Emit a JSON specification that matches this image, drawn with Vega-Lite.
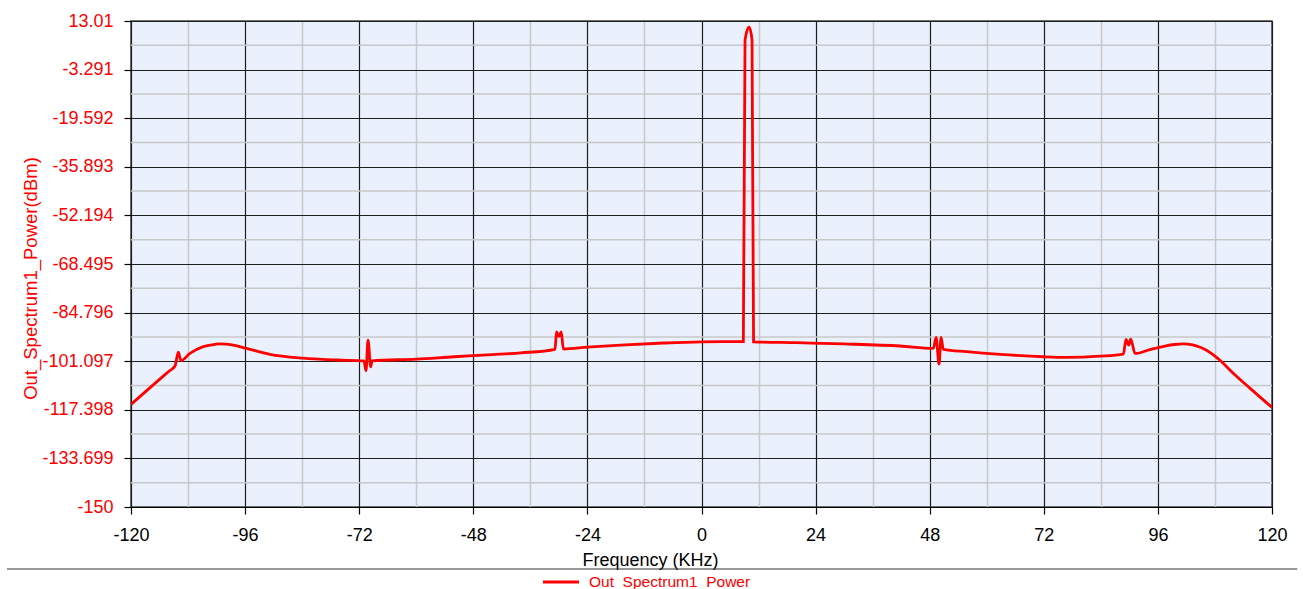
{
  "$schema": "https://vega.github.io/schema/vega-lite/v6.json",
  "autosize": {"type": "none"},
  "width": 1141,
  "height": 486,
  "padding": {"left": 131, "top": 21, "right": 31, "bottom": 82},
  "background": "#ffffff",
  "config": {
    "font": "Liberation Sans",
    "view": {"fill": "#EAF0FC", "stroke": "#444444", "strokeWidth": 1.5}
  },
  "datasets": {
    "spectrum": [
      {"f": -120, "p": -115.6, "s": "Out_Spectrum1_Power"},
      {"f": -117, "p": -111.4, "s": "Out_Spectrum1_Power"},
      {"f": -114, "p": -107.2, "s": "Out_Spectrum1_Power"},
      {"f": -112, "p": -104.45, "s": "Out_Spectrum1_Power"},
      {"f": -110.74, "p": -102.7, "s": "Out_Spectrum1_Power"},
      {"f": -110.05, "p": -98.1, "s": "Out_Spectrum1_Power"},
      {"f": -109.5, "p": -100.9, "s": "Out_Spectrum1_Power"},
      {"f": -107.6, "p": -98.5, "s": "Out_Spectrum1_Power"},
      {"f": -104.8, "p": -96.2, "s": "Out_Spectrum1_Power"},
      {"f": -103.0, "p": -95.6, "s": "Out_Spectrum1_Power"},
      {"f": -101.6, "p": -95.3, "s": "Out_Spectrum1_Power"},
      {"f": -100.0, "p": -95.35, "s": "Out_Spectrum1_Power"},
      {"f": -98.5, "p": -95.7, "s": "Out_Spectrum1_Power"},
      {"f": -95.7, "p": -96.8, "s": "Out_Spectrum1_Power"},
      {"f": -90.8, "p": -98.8, "s": "Out_Spectrum1_Power"},
      {"f": -83.8, "p": -100.1, "s": "Out_Spectrum1_Power"},
      {"f": -76.7, "p": -100.7, "s": "Out_Spectrum1_Power"},
      {"f": -70.99, "p": -101.0, "s": "Out_Spectrum1_Power"},
      {"f": -70.57, "p": -104.3, "s": "Out_Spectrum1_Power"},
      {"f": -70.15, "p": -94.0, "s": "Out_Spectrum1_Power"},
      {"f": -69.58, "p": -103.0, "s": "Out_Spectrum1_Power"},
      {"f": -69.3, "p": -101.0, "s": "Out_Spectrum1_Power"},
      {"f": -60, "p": -100.4, "s": "Out_Spectrum1_Power"},
      {"f": -52, "p": -99.6, "s": "Out_Spectrum1_Power"},
      {"f": -44, "p": -98.9, "s": "Out_Spectrum1_Power"},
      {"f": -38, "p": -98.3, "s": "Out_Spectrum1_Power"},
      {"f": -30.8, "p": -97.1, "s": "Out_Spectrum1_Power"},
      {"f": -30.5, "p": -91.3, "s": "Out_Spectrum1_Power"},
      {"f": -30.0, "p": -92.8, "s": "Out_Spectrum1_Power"},
      {"f": -29.5, "p": -91.3, "s": "Out_Spectrum1_Power"},
      {"f": -29.06, "p": -97.0, "s": "Out_Spectrum1_Power"},
      {"f": -24, "p": -96.4, "s": "Out_Spectrum1_Power"},
      {"f": -17, "p": -95.7, "s": "Out_Spectrum1_Power"},
      {"f": -8, "p": -95.0, "s": "Out_Spectrum1_Power"},
      {"f": 0, "p": -94.6, "s": "Out_Spectrum1_Power"},
      {"f": 8.8, "p": -94.5, "s": "Out_Spectrum1_Power"},
      {"f": 9.16, "p": 6.6, "s": "Out_Spectrum1_Power"},
      {"f": 10.0, "p": 11.0, "s": "Out_Spectrum1_Power"},
      {"f": 10.63, "p": 6.6, "s": "Out_Spectrum1_Power"},
      {"f": 10.95, "p": -94.6, "s": "Out_Spectrum1_Power"},
      {"f": 20, "p": -94.9, "s": "Out_Spectrum1_Power"},
      {"f": 30, "p": -95.3, "s": "Out_Spectrum1_Power"},
      {"f": 41.8, "p": -96.0, "s": "Out_Spectrum1_Power"},
      {"f": 48.77, "p": -96.8, "s": "Out_Spectrum1_Power"},
      {"f": 49.34, "p": -93.1, "s": "Out_Spectrum1_Power"},
      {"f": 49.97, "p": -102.1, "s": "Out_Spectrum1_Power"},
      {"f": 50.39, "p": -93.1, "s": "Out_Spectrum1_Power"},
      {"f": 50.87, "p": -97.1, "s": "Out_Spectrum1_Power"},
      {"f": 55.8, "p": -97.9, "s": "Out_Spectrum1_Power"},
      {"f": 62.8, "p": -98.8, "s": "Out_Spectrum1_Power"},
      {"f": 71.9, "p": -99.6, "s": "Out_Spectrum1_Power"},
      {"f": 76.8, "p": -99.8, "s": "Out_Spectrum1_Power"},
      {"f": 83.8, "p": -99.4, "s": "Out_Spectrum1_Power"},
      {"f": 88.73, "p": -98.7, "s": "Out_Spectrum1_Power"},
      {"f": 89.3, "p": -93.8, "s": "Out_Spectrum1_Power"},
      {"f": 89.86, "p": -95.7, "s": "Out_Spectrum1_Power"},
      {"f": 90.28, "p": -93.7, "s": "Out_Spectrum1_Power"},
      {"f": 91.19, "p": -98.5, "s": "Out_Spectrum1_Power"},
      {"f": 94.35, "p": -97.2, "s": "Out_Spectrum1_Power"},
      {"f": 97.5, "p": -96.0, "s": "Out_Spectrum1_Power"},
      {"f": 99.5, "p": -95.5, "s": "Out_Spectrum1_Power"},
      {"f": 101.35, "p": -95.3, "s": "Out_Spectrum1_Power"},
      {"f": 103.3, "p": -95.6, "s": "Out_Spectrum1_Power"},
      {"f": 104.9, "p": -96.4, "s": "Out_Spectrum1_Power"},
      {"f": 106.3, "p": -97.5, "s": "Out_Spectrum1_Power"},
      {"f": 107.67, "p": -99.0, "s": "Out_Spectrum1_Power"},
      {"f": 109.4, "p": -101.3, "s": "Out_Spectrum1_Power"},
      {"f": 111.9, "p": -105.2, "s": "Out_Spectrum1_Power"},
      {"f": 115.4, "p": -110.2, "s": "Out_Spectrum1_Power"},
      {"f": 120, "p": -116.6, "s": "Out_Spectrum1_Power"}
    ],
    "minorY": [
      {"g": -141.8495}, {"g": -125.5485}, {"g": -109.2475}, {"g": -92.9465}, {"g": -76.6455},
      {"g": -60.3445}, {"g": -44.0435}, {"g": -27.7425}, {"g": -11.4415}, {"g": 4.8595}
    ]
  },
  "layer": [
    {
      "data": {"name": "minorY"},
      "mark": {"type": "rule", "color": "#c8c8c8", "strokeWidth": 1.5},
      "encoding": {
        "y": {"field": "g", "type": "quantitative"}
      }
    },
    {
      "data": {"name": "spectrum"},
      "mark": {"type": "line", "strokeWidth": 2.8, "clip": true, "interpolate": "monotone"},
      "encoding": {
        "x": {
          "field": "f", "type": "quantitative",
          "scale": {"domain": [-120, 120], "nice": false, "zero": false},
          "axis": {
            "title": "Frequency (KHz)",
            "titleFont": "Liberation Sans",
            "titleFontSize": 18,
            "titleFontWeight": "normal",
            "titleColor": "#000000",
            "titleX": 519,
            "titleY": 58,
            "titleAnchor": null,
            "titleAlign": "center",
            "titleBaseline": "alphabetic",
            "values": [-120, -108, -96, -84, -72, -60, -48, -36, -24, -12, 0, 12, 24, 36, 48, 60, 72, 84, 96, 108, 120],
            "labelExpr": "datum.value % 24 == 0 ? datum.value + '' : ''",
            "labelFontSize": 18,
            "labelColor": "#000000",
            "labelPadding": 12,
            "labelFlush": false,
            "labelOverlap": false,
            "labelBound": false,
            "tickSize": 7,
            "tickColor": "#000000",
            "tickWidth": 1.2,
            "tickOpacity": {"condition": {"test": "datum.value % 24 != 0", "value": 0}, "value": 1},
            "grid": true,
            "gridColor": {"condition": {"test": "datum.value % 24 != 0", "value": "#c8c8c8"}, "value": "#1e1e1e"},
            "gridWidth": {"condition": {"test": "datum.value % 24 != 0", "value": 1.5}, "value": 1.2},
            "gridOpacity": 1,
            "domain": true,
            "domainColor": "#000000",
            "domainWidth": 1.2
          }
        },
        "y": {
          "field": "p", "type": "quantitative",
          "scale": {"domain": [-150, 13.01], "nice": false, "zero": false},
          "axis": {
            "title": "Out_Spectrum1_Power(dBm)",
            "titleFont": "Liberation Sans",
            "titleFontSize": 18.5,
            "titleFontWeight": "normal",
            "titleColor": "#ff0000",
            "titleX": -101,
            "titleY": 257,
            "titleAnchor": null,
            "titleAlign": "center",
            "titleBaseline": "middle",
            "values": [-150, -133.699, -117.398, -101.097, -84.796, -68.495, -52.194, -35.893, -19.592, -3.291, 13.01],
            "labelExpr": "datum.value + ''",
            "labelFontSize": 18,
            "labelColor": "#ff0000",
            "labelPadding": 11,
            "labelFlush": false,
            "labelOverlap": false,
            "labelBound": false,
            "tickSize": 7,
            "tickColor": "#000000",
            "tickWidth": 1.2,
            "grid": true,
            "gridColor": "#1e1e1e",
            "gridWidth": 1.2,
            "gridOpacity": 1,
            "domain": false
          }
        },
        "color": {
          "field": "s", "type": "nominal",
          "scale": {"range": ["#ff0000"]},
          "legend": {
            "orient": "none",
            "legendX": 410,
            "legendY": 541,
            "title": null,
            "padding": 0,
            "symbolType": "stroke",
            "symbolSize": 1300,
            "symbolStrokeWidth": 3,
            "labelColor": "#ff0000",
            "labelFontSize": 15.5,
            "labelFont": "Liberation Sans",
            "labelOffset": 8,
            "labelLimit": 400
          }
        }
      }
    },
    {
      "data": {"values": [{}]},
      "mark": {"type": "rule", "color": "#333333", "strokeWidth": 1.2, "clip": false},
      "encoding": {
        "x": {"datum": -146.1, "type": "quantitative"},
        "x2": {"datum": 125.3},
        "y": {"datum": -170.8, "type": "quantitative"}
      }
    }
  ]
}
